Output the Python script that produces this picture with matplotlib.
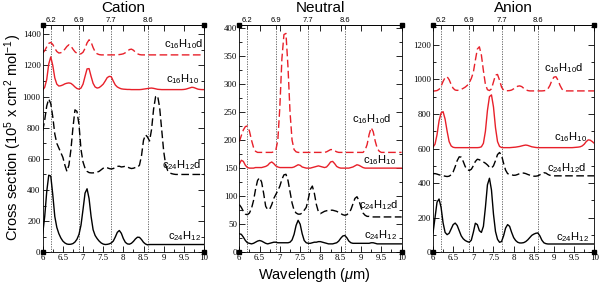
import numpy as np
import matplotlib
matplotlib.use('Agg')
import matplotlib.pyplot as plt
from matplotlib.ticker import MultipleLocator

plt.rcParams['mathtext.fontset'] = 'custom'
plt.rcParams['mathtext.rm'] = 'Liberation Sans'
plt.rcParams['mathtext.it'] = 'Liberation Sans:italic'

# wavelength grid (micron), 0.05 step from 6 to 10
wavelength = np.round(np.arange(6.0, 10.0001, 0.05), 2)

# ---- Cation ----
cation_c24h12 = [
    120, 230, 390, 495, 490, 370, 230, 160, 120, 92,
    72, 60, 53, 51, 52, 56, 66, 84, 115, 175,
    275, 380, 408, 345, 230, 145, 108, 88, 72, 60,
    53, 50, 51, 54, 60, 72, 98, 128, 140, 122,
    88, 64, 54, 52, 58, 70, 86, 97, 96, 82,
    64, 53, 48, 50, 50, 50, 50, 50, 50, 50,
    50, 50, 50, 50, 50, 50, 50, 50, 50, 50,
    50, 50, 50, 50, 50, 50, 50, 50, 50, 50,
    50]
cation_c24h12d = [
    780, 850, 940, 985, 955, 870, 760, 700, 670, 640,
    610, 560, 520, 560, 660, 800, 915, 905, 820, 660,
    580, 540, 520, 512, 510, 510, 512, 515, 520, 530,
    540, 546, 543, 538, 535, 538, 545, 552, 553, 548,
    550, 553, 548, 542, 538, 540, 545, 545, 560, 620,
    720, 755, 740, 715, 790, 920, 1000, 1005, 930, 790,
    650, 560, 525, 510, 505, 502, 500, 500, 500, 500,
    500, 500, 500, 500, 500, 500, 500, 500, 500, 500,
    500]
cation_c16h10 = [
    1042, 1060, 1110, 1210, 1255, 1200, 1120, 1080, 1068, 1070,
    1075, 1082, 1086, 1088, 1085, 1075, 1062, 1052, 1048, 1055,
    1080, 1130, 1178, 1180, 1130, 1085, 1062, 1055, 1058, 1068,
    1080, 1100, 1122, 1130, 1128, 1100, 1075, 1062, 1055, 1050,
    1048, 1047, 1046, 1046, 1045, 1045, 1045, 1045, 1045, 1046,
    1048, 1050, 1052, 1054, 1055, 1053, 1050, 1047, 1046, 1045,
    1045, 1045, 1045, 1045, 1045, 1045, 1045, 1045, 1045, 1045,
    1046, 1048, 1052, 1056, 1060, 1058, 1053, 1048, 1046, 1045,
    1045]
cation_c16h10d = [
    1280, 1295, 1320, 1342, 1348, 1335, 1310, 1290, 1280, 1282,
    1290, 1305, 1322, 1333, 1325, 1305, 1288, 1278, 1273, 1275,
    1285, 1310, 1345, 1365, 1350, 1315, 1288, 1275, 1270, 1268,
    1268, 1268, 1268, 1268, 1268, 1268, 1268, 1269, 1270, 1272,
    1275, 1282, 1292, 1302, 1305, 1298, 1285, 1275, 1270, 1268,
    1268, 1268, 1268, 1268, 1268, 1268, 1268, 1268, 1268, 1268,
    1268, 1268, 1268, 1268, 1268, 1268, 1268, 1268, 1268, 1268,
    1268, 1268, 1268, 1268, 1268, 1268, 1268, 1268, 1268, 1268,
    1268]

# ---- Neutral ----
neutral_c24h12 = [
    33, 32, 27, 21, 17, 16, 15, 16, 18, 20,
    21, 20, 18, 16, 15, 16, 17, 18, 18, 17,
    17, 17, 17, 17, 17, 18, 22, 32, 48, 57,
    50, 33, 21, 17, 16, 16, 17, 18, 18, 19,
    19, 18, 17, 16, 15, 15, 15, 16, 17, 20,
    25, 29, 30, 26, 20, 17, 16, 16, 16, 16,
    16, 16, 16, 16, 16, 17, 17, 16, 15, 15,
    15, 15, 15, 15, 15, 15, 15, 15, 15, 15,
    15]
neutral_c24h12d = [
    85, 80, 73, 68, 67, 70, 78, 92, 112, 128,
    133, 125, 105, 82, 76, 77, 85, 96, 103, 110,
    118, 130, 138, 139, 128, 108, 88, 75, 70, 68,
    68, 70, 75, 80, 95, 112, 118, 105, 85, 72,
    69, 71, 73, 74, 75, 75, 75, 74, 73, 71,
    69, 67, 66, 67, 70, 76, 86, 96, 99, 92,
    80, 70, 66, 64, 64, 63, 63, 63, 63, 63,
    63, 63, 63, 63, 63, 63, 63, 63, 63, 63,
    63]
neutral_c16h10 = [
    157, 164, 162, 155, 151, 150, 150, 150, 151, 151,
    151, 151, 152, 153, 155, 159, 161, 158, 154, 152,
    151, 151, 151, 151, 151, 151, 151, 152, 154, 156,
    155, 152, 151, 150, 150, 150, 151, 152, 153, 154,
    153, 152, 151, 152, 156, 161, 162, 158, 153, 151,
    150, 150, 150, 150, 150, 151, 152, 154, 156, 155,
    153, 151, 150, 150, 150, 150, 150, 150, 150, 150,
    150, 150, 150, 150, 150, 150, 150, 150, 150, 150,
    150]
neutral_c16h10d = [
    197, 208, 218, 224, 225, 216, 200, 187, 180, 178,
    178, 178, 178, 178, 178, 178, 178, 179, 182, 200,
    260, 345, 388, 390, 330, 250, 200, 183, 179, 178,
    178, 178, 178, 178, 178, 178, 178, 178, 178, 178,
    178, 178, 178, 179, 181, 183, 183, 181, 179, 178,
    178, 178, 178, 178, 178, 178, 178, 178, 178, 178,
    178, 178, 182, 192, 210, 222, 215, 198, 185, 180,
    178, 178, 178, 178, 178, 178, 178, 178, 178, 178,
    178]

# ---- Anion ----
anion_c24h12 = [
    112, 200, 290, 308, 260, 170, 115, 102, 110, 135,
    160, 169, 155, 125, 95, 78, 68, 62, 58, 70,
    115, 168, 160, 125, 115, 150, 260, 390, 428, 360,
    220, 120, 75, 58, 62, 95, 140, 160, 150, 115,
    85, 68, 58, 54, 54, 56, 62, 72, 85, 98,
    105, 110, 112, 95, 70, 55, 50, 48, 48, 48,
    48, 48, 48, 48, 48, 48, 48, 48, 48, 48,
    48, 48, 48, 48, 48, 48, 48, 48, 48, 48,
    48]
anion_c24h12d = [
    454, 455, 452, 448, 445, 443, 440, 438, 440, 448,
    465, 495, 530, 552, 550, 525, 495, 478, 473, 480,
    500, 525, 538, 535, 528, 522, 515, 505, 492, 487,
    500, 530, 565, 577, 560, 515, 475, 455, 450, 448,
    445, 446, 450, 455, 458, 458, 455, 450, 446, 442,
    440, 440, 442, 448, 455, 460, 458, 450, 445, 443,
    442, 442, 442, 442, 442, 442, 442, 442, 442, 442,
    442, 442, 442, 442, 442, 442, 442, 442, 442, 442,
    442]
anion_c16h10 = [
    608, 625, 680, 760, 805, 813, 770, 700, 640, 615,
    607, 605, 605, 605, 605, 605, 605, 605, 605, 605,
    605, 605, 605, 606, 610, 630, 700, 820, 900, 910,
    840, 720, 640, 612, 606, 605, 605, 605, 605, 606,
    607, 608, 610, 612, 615, 618, 620, 618, 614, 610,
    608, 606, 605, 605, 605, 605, 605, 605, 605, 605,
    605, 605, 605, 605, 605, 605, 605, 605, 605, 605,
    606, 607, 608, 610, 615, 625, 640, 650, 648, 640,
    630]
anion_c16h10d = [
    932, 933, 935, 942, 960, 988, 1010, 1015, 998, 970,
    948, 938, 936, 938, 942, 948, 955, 965, 980, 1005,
    1040, 1110, 1175, 1188, 1140, 1050, 970, 940, 935, 945,
    985, 1025, 1028, 995, 955, 937, 934, 934, 935, 938,
    945, 953, 960, 962, 958, 948, 940, 935, 933, 933,
    933, 933, 933, 933, 933, 934, 936, 945, 965, 995,
    1013, 1015, 995, 965, 943, 935, 933, 933, 933, 933,
    933, 933, 933, 933, 933, 933, 933, 933, 933, 933,
    933]

band_positions = [6.2, 6.9, 7.7, 8.6]
band_labels = ['6.2', '6.9', '7.7', '8.6']
x_labels = ['6', '6.5', '7', '7.5', '8', '8.5', '9', '9.5', '10']

names = ['c$_{24}$H$_{12}$', 'c$_{24}$H$_{12}$d', 'c$_{16}$H$_{10}$', 'c$_{16}$H$_{10}$d']
colors = ['black', 'black', '#e8202a', '#e8202a']
styles = ['-', '--', '-', '--']

# title, curves, y top, major, minor, label y, label right edge
panels = [
    ('Cation', [cation_c24h12, cation_c24h12d, cation_c16h10, cation_c16h10d],
     1460, 200, 100, [107, 560, 1115, 1340], [9.92, 9.92, 9.87, 9.97]),
    ('Neutral', [neutral_c24h12, neutral_c24h12d, neutral_c16h10, neutral_c16h10d],
     405, 50, 25, [30, 84, 164, 237], [9.88, 9.92, 9.87, 9.74]),
    ('Anion', [anion_c24h12, anion_c24h12d, anion_c16h10, anion_c16h10d],
     1314, 200, 100, [90, 487, 665, 1065], [9.87, 9.8, 9.82, 9.72]),
]

SANS = 'Liberation Sans'
SERIF = 'Liberation Serif'

fig = plt.figure(figsize=(6, 2.86), dpi=100)
lefts = [42.7, 239.3, 433]
widths = [161.3, 162.3, 161.3]

for i, (title, series, ytop, ymaj, ymin, label_y, label_x) in enumerate(panels):
    ax = fig.add_axes([lefts[i] / 600, (286 - 252.3) / 286, widths[i] / 600, 227.3 / 286])
    for vx in band_positions:
        ax.axvline(vx, color='#555555', lw=0.6, ls=(0, (1.5, 1.5)), zorder=1)
    for ys, c, ls in zip(series, colors, styles):
        if ls == '--':
            ax.plot(wavelength, ys, color=c, lw=1.0, ls=(0, (5.5, 2.5)), zorder=2)
        else:
            ax.plot(wavelength, ys, color=c, lw=1.0, zorder=2)
    for name, ly, lx in zip(names, label_y, label_x):
        ax.text(lx, ly, name, ha='right', va='center', fontsize=8, family=SANS)
    ax.set_xlim(6, 10)
    ax.set_ylim(0, ytop)
    ax.set_xticks(np.arange(6, 10.01, 0.5))
    ax.set_xticklabels(x_labels)
    ax.xaxis.set_minor_locator(MultipleLocator(0.25))
    ax.yaxis.set_major_locator(MultipleLocator(ymaj))
    ax.yaxis.set_minor_locator(MultipleLocator(ymin))
    ax.tick_params(which='both', direction='in', right=True, top=False, width=0.6, pad=1.5)
    ax.tick_params(which='major', length=4, labelsize=6.3)
    ax.tick_params(which='minor', length=2)
    for lab in ax.get_xticklabels() + ax.get_yticklabels():
        lab.set_family(SERIF)
    for sp in ax.spines.values():
        sp.set_linewidth(0.6)
    # top axis with band positions
    top = ax.secondary_xaxis('top')
    top.set_xticks(band_positions)
    top.set_xticklabels(band_labels)
    top.xaxis.set_minor_locator(MultipleLocator(0.5))
    top.tick_params(which='major', direction='in', length=3, width=0.6, labelsize=5.5, pad=1)
    top.tick_params(which='minor', direction='in', length=4, width=0.6)
    for lab in top.get_xticklabels():
        lab.set_family(SANS)
    top.spines['top'].set_linewidth(0.6)
    # corner squares
    ax.plot([0, 1, 0, 1], [0, 0, 1, 1], 's', ms=2.5, color='black',
            transform=ax.transAxes, clip_on=False, zorder=5)
    fig.text((lefts[i] + widths[i] / 2) / 600, (286 - 8) / 286, title,
             ha='center', va='center', fontsize=11, family=SANS)

fig.text(0.022, 0.52, 'Cross section (10$^5$ x cm$^2$ mol$^{-1}$)', rotation=90,
         ha='center', va='center', fontsize=10.5, family=SANS)
fig.text(0.523, 0.04, 'Wavelength ($\\mu$m)', ha='center', va='center', fontsize=10.5, family=SANS)

fig.savefig('out.png', dpi=100)
